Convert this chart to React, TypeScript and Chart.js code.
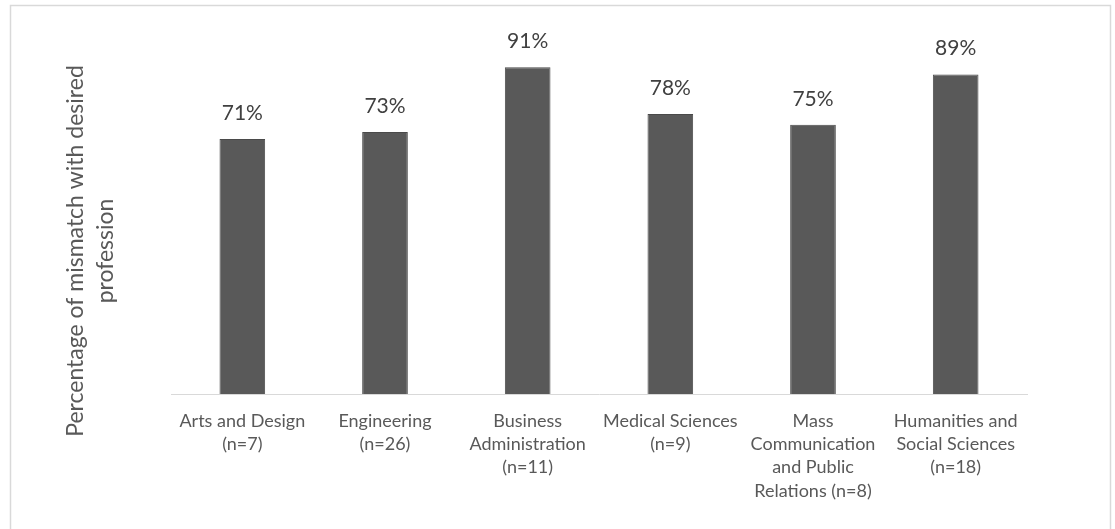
import React, { useEffect, useRef } from "react";
import { Chart, registerables } from "chart.js";

Chart.register(...registerables);

const categories: string[][] = [
  ["Arts and Design", "(n=7)"],
  ["Engineering", "(n=26)"],
  ["Business", "Administration", "(n=11)"],
  ["Medical Sciences", "(n=9)"],
  ["Mass", "Communication", "and Public", "Relations (n=8)"],
  ["Humanities and", "Social Sciences", "(n=18)"],
];
const mismatchValues: number[] = [71, 73, 91, 78, 75, 89];
const yTitleLines: string[] = ["Percentage of mismatch with desired", "profession"];

const FONT = "Lato, 'Open Sans', sans-serif";

const framePlugin = {
  id: "frame",
  beforeDraw(chart: any) {
    const ctx = chart.ctx;
    ctx.save();
    ctx.fillStyle = "#ffffff";
    ctx.fillRect(0, 0, chart.width, chart.height);
    ctx.strokeStyle = "#d9d9d9";
    ctx.lineWidth = 1.5;
    ctx.beginPath();
    ctx.moveTo(10.5, chart.height + 2);
    ctx.lineTo(10.5, 5.5);
    ctx.lineTo(1110.5, 5.5);
    ctx.lineTo(1110.5, chart.height + 2);
    ctx.stroke();
    ctx.restore();
  },
};

const valueLabelPlugin = {
  id: "valueLabels",
  afterDatasetsDraw(chart: any) {
    const ctx = chart.ctx;
    const meta = chart.getDatasetMeta(0);
    ctx.save();
    ctx.font = `21px ${FONT}`;
    ctx.fillStyle = "#404040";
    ctx.textAlign = "center";
    ctx.textBaseline = "alphabetic";
    meta.data.forEach((bar: any, i: number) => {
      ctx.fillText(`${mismatchValues[i]}%`, bar.x, bar.y - 19);
    });
    ctx.restore();
  },
};

const yTitlePlugin = {
  id: "yTitle",
  afterDraw(chart: any) {
    const ctx = chart.ctx;
    ctx.save();
    ctx.font = `23px ${FONT}`;
    ctx.fillStyle = "#595959";
    ctx.textAlign = "center";
    ctx.textBaseline = "middle";
    ctx.translate(76, 251);
    ctx.rotate(-Math.PI / 2);
    yTitleLines.forEach((line, i) => {
      ctx.fillText(line, 0, i * 30);
    });
    ctx.restore();
  },
};

export default function App() {
  const canvasRef = useRef<HTMLCanvasElement | null>(null);

  useEffect(() => {
    document.body.style.margin = "0";
    const canvas = canvasRef.current;
    if (!canvas) return;
    const chart = new Chart(canvas, {
      type: "bar",
      data: {
        labels: categories,
        datasets: [
          {
            data: mismatchValues,
            backgroundColor: "#595959",
            borderColor: "#4a4a4a",
            borderWidth: 1,
            barPercentage: 0.64,
            categoryPercentage: 0.5,
          },
        ],
      },
      options: {
        responsive: false,
        animation: false,
        layout: { padding: { left: 171, right: 88, top: 35, bottom: 0 } },
        plugins: {
          legend: { display: false },
          tooltip: { enabled: false },
        },
        scales: {
          x: {
            grid: { display: false, drawTicks: false },
            border: { display: true, color: "#d9d9d9", width: 1 },
            ticks: {
              color: "#595959",
              font: { family: FONT, size: 18, lineHeight: 1.3 },
              padding: 15,
              maxRotation: 0,
              autoSkip: false,
            },
            afterFit(scale: any) {
              scale.height = 135;
            },
          },
          y: {
            display: false,
            min: 0,
            max: 100,
          },
        },
      },
      plugins: [framePlugin, valueLabelPlugin, yTitlePlugin],
    });
    return () => chart.destroy();
  }, []);

  return (
    <div style={{ width: 1115, height: 529 }}>
      <canvas ref={canvasRef} width={1115} height={529} style={{ display: "block" }} />
    </div>
  );
}
